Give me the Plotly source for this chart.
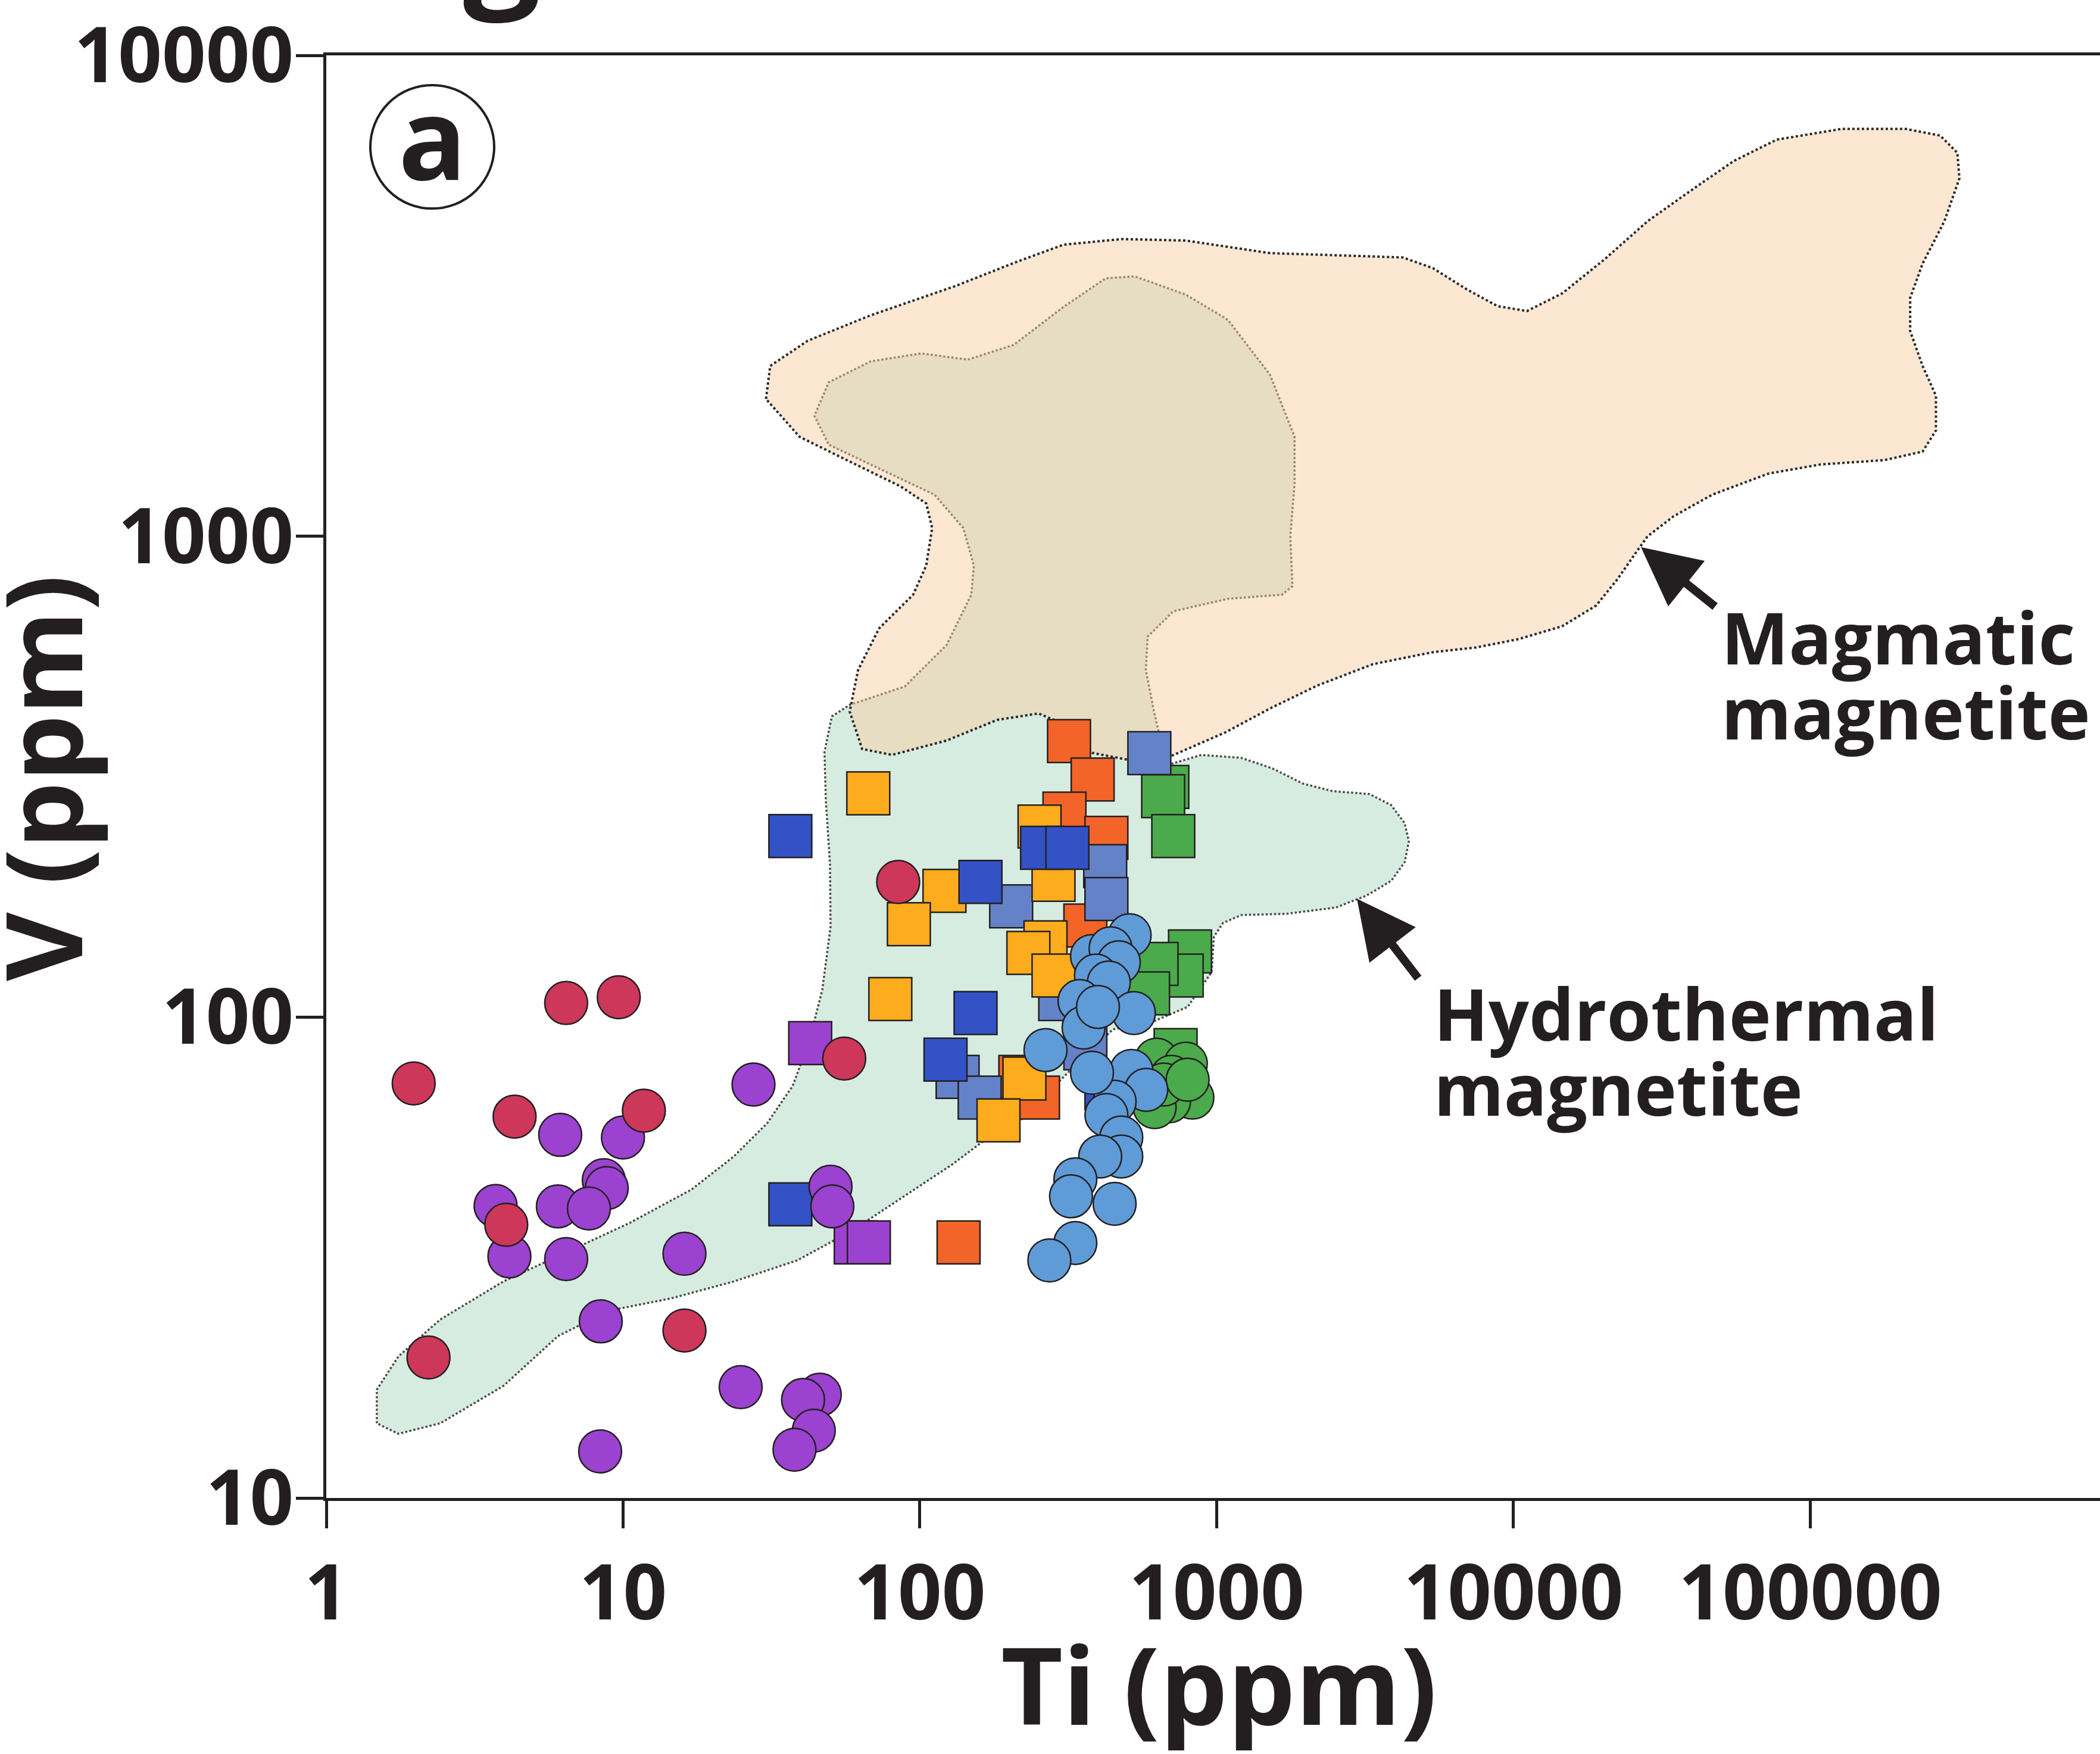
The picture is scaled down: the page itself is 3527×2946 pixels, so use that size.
import plotly.graph_objects as go

# ---------------- data (Ti ppm, V ppm) ----------------
# Field outlines
magmatic_ti = [30.3, 31.3, 41.9, 68.2, 131, 214, 305, 481, 787, 1510, 4240, 5350, 6970, 8830,
               11100, 14600, 20300, 28300, 39500, 55200, 77100, 127000, 210000, 274000, 313000,
               318000, 283000, 239000, 217000, 217000, 239000, 265000, 265000, 239000, 178000,
               108000, 72300, 46700, 34600, 28300, 25700, 22400, 19000, 14600, 10400, 7470, 5350,
               3360, 2180, 1530, 1070, 701, 526, 383, 305, 251, 182, 123, 80.6, 63.9, 58.0, 61.9,
               72.8, 94.9, 105, 110, 105, 86.0, 58.0, 39.3]
magmatic_v = [1930, 2260, 2550, 2880, 3310, 3730, 4040, 4150, 4120, 3880, 3800, 3610, 3260, 3010,
              2940, 3200, 3770, 4520, 5230, 6030, 6680, 7030, 7030, 6810, 6270,
              5550, 4520, 3690, 3130, 2670, 2260, 1960, 1660, 1500, 1440,
              1410, 1350, 1220, 1100, 1000, 920, 814, 718, 650, 611, 587, 574,
              542, 489, 440, 391, 349, 341, 354, 407, 428, 415, 376, 351, 361, 432, 527,
              643, 756, 869, 1040, 1170, 1270, 1430, 1610]

hydro_ti = [1.48, 1.48, 1.75, 2.42, 3.95, 6.03, 10.5, 17.0, 23.6, 30.6, 37.3, 42.5, 46.9, 50.0,
            49.8, 48.2, 47.7, 50.5, 58.0, 88.9, 123, 149, 152, 140, 112, 75.2, 49.3, 44.1, 49.3,
            68.2, 101, 145, 207, 305, 423, 530, 787, 1090, 1510, 1830, 1830, 1770, 1800, 1660,
            1090, 714, 585, 577, 615, 654, 701, 888, 1210, 1540, 1950, 2460, 3270, 3870, 4300,
            4440, 4300, 3870, 3200, 2520, 1720, 1210, 1050, 979, 961, 798, 604, 447, 315, 218,
            166, 128, 86.8, 58.8, 38.6, 23.6, 14.5, 8.90, 6.03, 3.95, 2.42, 1.75]
hydro_v = [14.3, 16.8, 19.7, 23.5, 28.2, 31.8, 37.3, 43.8, 51.3, 60.2, 72.0, 89.6, 114, 154,
           207, 283, 356, 422, 446, 487, 594, 756, 869, 1040, 1220, 1370, 1550, 1780, 2090,
           2310, 2400, 2330, 2500, 3000, 3440, 3470, 3180, 2820, 2170, 1610, 1290, 1000, 787, 756,
           741, 698, 618, 527, 432, 366, 336, 351, 346, 329, 306, 295, 291, 276, 253,
           232, 210, 192, 179, 169, 164, 163, 157, 147, 124, 105, 97.6, 94.3, 76.6, 61.0,
           55.6, 49.3, 42.1, 35.9, 31.2, 28.2, 26.0, 24.5, 21.7, 17.1, 14.3, 13.6]

# Squares
green_sq_ti = [682, 660, 714, 813, 762, 627, 587, 727]
green_sq_v = [301, 288, 238, 137, 122, 129, 112, 85.4]
orangered_sq_ti = [318, 382, 307, 425, 361, 392, 250, 218, 135]
orangered_sq_v = [375, 312, 265, 236, 155, 116, 68.0, 75.1, 34.0]
steel_sq_ti = [593, 421, 425, 203, 297, 361, 134, 159]
steel_sq_v = [354, 206, 176, 170, 109, 86.1, 75.1, 68.0]
amber_sq_ti = [67.0, 121, 91.8, 253, 282, 265, 232, 282, 79.5, 225, 184]
amber_sq_v = [292, 183, 156, 249, 193, 143, 136, 122, 109, 74.5, 61.0]
royal_sq_ti = [36.6, 160, 258, 314, 154, 122, 425, 36.6]
royal_sq_v = [238, 191, 225, 225, 102, 81.6, 71.2, 40.8]
purple_sq_ti = [42.7, 60.8, 67.3]
purple_sq_v = [88.3, 34.0, 34.0]

# Circles
green_ci_ti = [627, 787, 704, 828, 691, 618, 663, 798]
green_ci_v = [81.6, 80.0, 75.1, 68.0, 66.8, 65.0, 72.4, 74.1]
lblue_ci_ti = [509, 380, 439, 468, 392, 433, 345, 526, 356, 265, 516, 579, 453, 425, 477, 477,
               405, 334, 323, 453, 334, 273, 398, 380]
lblue_ci_v = [148, 134, 139, 130, 122, 118, 108, 102, 95.1, 85.4, 77.3, 70.6, 66.7, 62.6, 56.2,
              51.3, 51.3, 46.0, 42.4, 40.9, 33.9, 31.2, 105, 76.6]
purple_ci_ti = [6.14, 9.99, 27.5, 8.61, 8.81, 3.72, 6.03, 7.67, 4.14, 6.43, 16.1, 50.0, 50.7,
                8.41, 24.9, 8.37, 46.0, 40.4, 43.9, 37.8]
purple_ci_v = [56.9, 56.2, 72.4, 45.8, 44.1, 40.5, 40.4, 40.0, 31.8, 31.4, 32.2, 44.4, 40.4,
               23.3, 17.0, 12.5, 16.4, 16.0, 13.8, 12.6]
crimson_ci_ti = [6.43, 9.67, 1.97, 4.31, 11.75, 4.04, 55.6, 84.5, 2.21, 16.1]
crimson_ci_v = [107, 110, 72.8, 62.1, 63.9, 37.0, 82.0, 191, 19.6, 22.3]

x_tickvals = [1, 10, 100, 1000, 10000, 100000]
x_ticktext = ["1", "10", "100", "1000", "10000", "100000"]
y_tickvals = [10, 100, 1000, 10000]
y_ticktext = ["10", "100", "1000", "10000"]

# ---------------- layout helpers ----------------
W, H = 3527, 2946
PL, PR, PT, PB = 548, 3527, 87, 2516
INK = "#231F20"
FONT = "Open Sans"


def px_x(X):
    return (X - PL) / (PR - PL)


def px_y(Y):
    return (PB - Y) / (PB - PT)


fig = go.Figure()

# fields
fig.add_trace(go.Scatter(x=hydro_ti + [hydro_ti[0]], y=hydro_v + [hydro_v[0]], mode="lines",
                         fill="toself", fillcolor="#D7ECE0",
                         line=dict(color="#4a4a4a", width=3.5, dash="dot"),
                         hoverinfo="skip", showlegend=False))
fig.add_trace(go.Scatter(x=magmatic_ti + [magmatic_ti[0]], y=magmatic_v + [magmatic_v[0]],
                         mode="lines", fill="toself", fillcolor="rgba(248,203,160,0.46)",
                         line=dict(color="#2a2a2a", width=4, dash="dot"),
                         hoverinfo="skip", showlegend=False))


def pts(x, y, color, symbol):
    fig.add_trace(go.Scatter(x=x, y=y, mode="markers", showlegend=False,
                             marker=dict(symbol=symbol, size=72, color=color,
                                         line=dict(color=INK, width=2.5))))


pts(green_sq_ti, green_sq_v, "#4BAA4B", "square")
pts(orangered_sq_ti, orangered_sq_v, "#F36428", "square")
pts(steel_sq_ti, steel_sq_v, "#6482C8", "square")
pts(amber_sq_ti, amber_sq_v, "#FCAC1C", "square")
pts(royal_sq_ti, royal_sq_v, "#3352C6", "square")
pts(purple_sq_ti, purple_sq_v, "#9B42D0", "square")
pts(green_ci_ti, green_ci_v, "#4BAA4B", "circle")
pts(lblue_ci_ti, lblue_ci_v, "#5F9BD7", "circle")
pts(purple_ci_ti, purple_ci_v, "#9B42D0", "circle")
pts(crimson_ci_ti, crimson_ci_v, "#CD375A", "circle")

axis_common = dict(type="log", showgrid=False, zeroline=False, showline=True, linewidth=5,
                   linecolor=INK, ticks="outside", ticklen=46, tickwidth=5, tickcolor=INK,
                   ticklabeloverflow="allow",
                   tickfont=dict(family=FONT, size=129, color=INK, weight="bold"))

fig.update_layout(
    width=W, height=H,
    margin=dict(l=PL, r=W - PR, t=PT, b=H - PB, pad=0),
    paper_bgcolor="white", plot_bgcolor="white",
    xaxis=dict(range=[0, 5.976], tickvals=x_tickvals, ticktext=x_ticktext, mirror=True,
               ticklabelstandoff=-2, **axis_common),
    yaxis=dict(range=[1, 4], tickvals=y_tickvals, ticktext=y_ticktext, mirror=False,
               ticklabelstandoff=-22, **axis_common),
)

ann = []


def label(text, X, Ymid, size, xanchor="left", angle=0):
    ann.append(dict(text=text, x=px_x(X), y=px_y(Ymid), xref="paper", yref="paper",
                    xanchor=xanchor, yanchor="middle", showarrow=False, textangle=angle,
                    font=dict(family=FONT, size=size, color=INK, weight="bold")))


def arrow(tip, tail):
    ann.append(dict(text="", x=px_x(tip[0]), y=px_y(tip[1]), xref="paper", yref="paper",
                    ax=tail[0] - tip[0], ay=tail[1] - tip[1], showarrow=True,
                    arrowhead=2, arrowwidth=14, arrowsize=1.4, arrowcolor=INK))


label("Magmatic", 2889, 1066, 120)
label("magnetite", 2889, 1192, 120)
label("Hydrothermal", 2406, 1699, 120)
label("magnetite", 2406, 1826, 120)
label("Ti (ppm)", 2047, 2828, 180, xanchor="center")
label("V (ppm)", 69, 1304, 178, xanchor="center", angle=-90)
label("a", 726, 223, 190, xanchor="center")
# cut-off title fragment at the very top
ann.append(dict(text="g", x=px_x(843), y=px_y(47), xref="paper", yref="paper",
                xanchor="center", yanchor="bottom", showarrow=False,
                font=dict(family=FONT, size=230, color=INK, weight="bold")))
arrow((2756, 915), (2882, 1016))
arrow((2279, 1507), (2383, 1642))

fig.update_layout(annotations=ann)
fig.add_shape(type="circle", xref="paper", yref="paper",
              x0=px_x(622), x1=px_x(830), y0=px_y(345), y1=px_y(137),
              line=dict(color=INK, width=4))

fig.write_html("out.html")
